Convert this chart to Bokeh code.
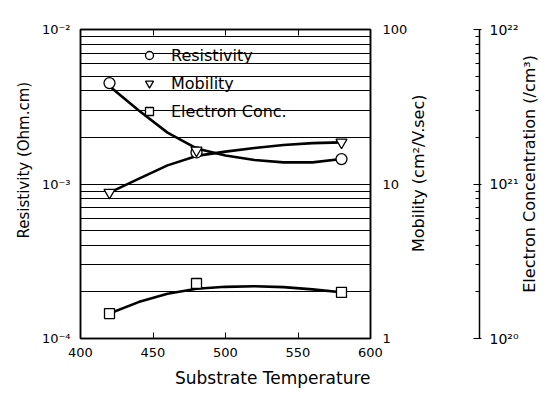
import math
from bokeh.plotting import figure
from bokeh.models import (Range1d, LogScale, LogAxis, LinearAxis, FixedTicker,
                          Legend, LegendItem, Title)
from bokeh.embed import file_html
from bokeh.resources import INLINE

# ---------------- data ----------------
temp_points = [420, 480, 580]
resistivity = [4.5e-3, 1.6e-3, 1.45e-3]        # Ohm.cm
mobility = [8.8, 16.5, 18.6]                    # cm2/V.sec
electron_conc = [1.45e20, 2.27e20, 1.99e20]     # /cm3

fit_temp = [420, 440, 460, 480, 500, 520, 540, 560, 580]
resistivity_fit = [4.3e-3, 3.0e-3, 2.15e-3, 1.7e-3, 1.53e-3, 1.43e-3, 1.38e-3, 1.38e-3, 1.45e-3]
mobility_fit = [8.8, 10.8, 13.2, 15.2, 16.2, 17.1, 17.9, 18.4, 18.6]
conc_fit = [1.45e20, 1.72e20, 1.95e20, 2.1e20, 2.16e20, 2.18e20, 2.15e20, 2.08e20, 1.99e20]

x_ticks = [400, 450, 500, 550, 600]
res_ticks = [1e-4, 1e-3, 1e-2]
res_labels = ["10⁻⁴", "10⁻³", "10⁻²"]
mob_ticks = [1, 10, 100]
mob_labels = ["1", "10", "100"]
conc_ticks = [1e20, 1e21, 1e22]
conc_labels = ["10²⁰", "10²¹", "10²²"]
series_names = ["Resistivity", "Mobility", "Electron Conc."]
x_title = "Substrate Temperature"
res_title = "Resistivity (Ohm.cm)"
mob_title = "Mobility (cm²/V.sec)"
conc_title = "Electron Concentration (/cm³)"

FONT = "DejaVu Sans"
NBSP = "\u00a0"

res_minor = [k * 10.0 ** e for e in (-4, -3) for k in range(2, 10)]
mob_minor = [k * 10.0 ** e for e in (0, 1) for k in range(2, 10)]
conc_minor = [k * 10.0 ** e for e in (20, 21) for k in range(2, 10)]

p = figure(width=560, height=396, x_range=Range1d(400, 600),
           y_range=Range1d(1e-4, 1e-2), y_axis_type="log",
           output_backend="svg", toolbar_location=None,
           min_border_left=80, min_border_right=190,
           min_border_top=29, min_border_bottom=58)
p.background_fill_color = "white"
p.border_fill_color = "white"
p.outline_line_color = "black"
p.outline_line_width = 1.5

p.extra_y_ranges = {"mob": Range1d(1, 100), "ec": Range1d(1e20, 1e22)}
p.extra_y_scales = {"mob": LogScale(), "ec": LogScale()}


def style_axis(ax, label_size="13px", title_size="15px"):
    ax.axis_line_color = "black"
    ax.axis_line_width = 1.5
    ax.major_label_text_font = FONT
    ax.major_label_text_font_size = label_size
    ax.major_label_text_color = "black"
    ax.axis_label_text_font = FONT
    ax.axis_label_text_font_size = title_size
    ax.axis_label_text_font_style = "normal"
    ax.axis_label_text_color = "black"
    ax.major_tick_line_color = "black"
    ax.minor_tick_line_color = "black"


has_align = "axis_label_align" in LinearAxis().properties()

# left axis (resistivity)
res_ticker = FixedTicker(ticks=res_ticks, minor_ticks=res_minor)
yax = p.yaxis[0]
yax.ticker = res_ticker
style_axis(yax)
yax.major_label_overrides = dict(zip(res_ticks, res_labels))
yax.major_tick_in = 0
yax.major_tick_out = 0
yax.minor_tick_in = 0
yax.minor_tick_out = 0
yax.major_label_standoff = 10
yax.axis_label = NBSP * 10 + res_title
yax.axis_label_standoff = 6

p.ygrid.ticker = res_ticker
p.ygrid.grid_line_color = "black"
p.ygrid.grid_line_width = 1
p.ygrid.minor_grid_line_color = "black"
p.ygrid.minor_grid_line_width = 1
p.xgrid.visible = False

# bottom axis
xax = p.xaxis[0]
xax.ticker = FixedTicker(ticks=x_ticks)
style_axis(xax)
xax.major_tick_in = 6
xax.major_tick_out = 0
xax.minor_tick_in = 0
xax.minor_tick_out = 0
xax.major_label_standoff = 9

# x title as a title below the axis, right-aligned with the frame
p.add_layout(Title(text=x_title, align="right", vertical_align="bottom",
                   standoff=13, text_font=FONT, text_font_size="17px",
                   text_font_style="normal", text_color="black"), "below")

# top axis: inward ticks only
top = LinearAxis(ticker=FixedTicker(ticks=x_ticks))
style_axis(top)
top.major_tick_in = 6
top.major_tick_out = 0
top.minor_tick_in = 0
top.minor_tick_out = 0
top.major_label_text_font_size = "0px"
p.add_layout(top, "above")

# right axis 1: mobility (label reads upwards, like the left one)
mob_ax = LogAxis(y_range_name="mob", ticker=FixedTicker(ticks=mob_ticks, minor_ticks=mob_minor))
style_axis(mob_ax, title_size="16px")
mob_ax.major_label_overrides = dict(zip(mob_ticks, mob_labels))
mob_ax.major_tick_in = 4
mob_ax.major_tick_out = 0
mob_ax.minor_tick_in = 3
mob_ax.minor_tick_out = 0
mob_ax.major_label_standoff = 12
mob_ax.axis_label = NBSP * 17 + mob_title
mob_ax.axis_label_standoff = 8
mob_ax.axis_label_orientation = math.pi / 2
if has_align:
    mob_ax.axis_label_align = "start"
p.add_layout(mob_ax, "right")

# spacer between the two right axes (white, invisible ticks reserve the room)
spacer = LogAxis(y_range_name="mob", ticker=FixedTicker(ticks=[10]))
spacer.axis_line_color = None
spacer.major_tick_line_color = "white"
spacer.minor_tick_line_color = None
spacer.major_tick_in = 0
spacer.major_tick_out = 39
spacer.minor_tick_out = 0
spacer.major_label_text_font_size = "0px"
spacer.major_label_overrides = {10: ""}
p.add_layout(spacer, "right")

# right axis 2: electron concentration
ec_ax = LogAxis(y_range_name="ec", ticker=FixedTicker(ticks=conc_ticks, minor_ticks=conc_minor))
style_axis(ec_ax, label_size="14px", title_size="16px")
ec_ax.major_label_overrides = dict(zip(conc_ticks, conc_labels))
ec_ax.major_tick_in = 6
ec_ax.major_tick_out = 2
ec_ax.minor_tick_in = 4
ec_ax.minor_tick_out = 0
ec_ax.major_label_standoff = 8
ec_ax.axis_label = NBSP * 9 + conc_title
ec_ax.axis_label_standoff = 8
ec_ax.axis_label_orientation = math.pi / 2
if has_align:
    ec_ax.axis_label_align = "start"
p.add_layout(ec_ax, "right")

# fitted curves
p.line(fit_temp, resistivity_fit, line_color="black", line_width=2.6)
p.line(fit_temp, mobility_fit, line_color="black", line_width=2.6, y_range_name="mob")
p.line(fit_temp, conc_fit, line_color="black", line_width=2.6, y_range_name="ec")

# markers
r1 = p.scatter(temp_points, resistivity, marker="circle", size=11,
               fill_color="white", line_color="black", line_width=1.3)
r2 = p.scatter(temp_points, mobility, marker="inverted_triangle", size=11,
               fill_color="white", line_color="black", line_width=1.3, y_range_name="mob")
r3 = p.scatter(temp_points, electron_conc, marker="square", size=10,
               fill_color="white", line_color="black", line_width=1.3, y_range_name="ec")

legend = Legend(items=[LegendItem(label=series_names[0], renderers=[r1]),
                       LegendItem(label=series_names[1], renderers=[r2]),
                       LegendItem(label=series_names[2], renderers=[r3])],
                location=(59, 213), padding=0, margin=0, spacing=0,
                glyph_width=20, glyph_height=28, label_height=28, label_standoff=12,
                background_fill_alpha=0, border_line_alpha=0,
                label_text_font=FONT, label_text_font_size="16px",
                label_text_color="black")
p.add_layout(legend)

open("out.html", "w").write(file_html(p, INLINE))
